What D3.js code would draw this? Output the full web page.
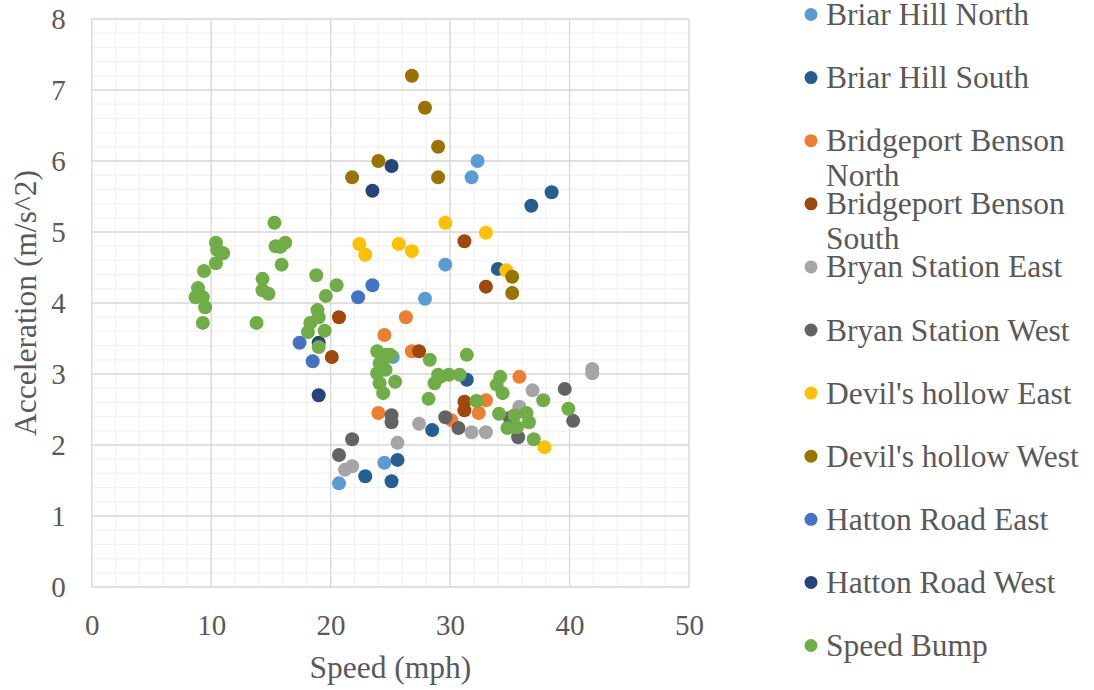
<!DOCTYPE html>
<html>
<head>
<meta charset="utf-8">
<script src="https://cdn.jsdelivr.net/npm/d3@7"></script>
<style>
  body { margin: 0; background: #fff; }
  svg { display: block; }
</style>
</head>
<body>
<svg width="1094" height="690"></svg>
<script>
const width = 1094, height = 690;
const FONT = "'Liberation Serif', 'Times New Roman', serif";
const svg = d3.select("svg").attr("font-family", FONT);

// Series names and colours (legend order)
const seriesNames = [
    "Briar Hill North", "Briar Hill South", "Bridgeport Benson North", "Bridgeport Benson South",
    "Bryan Station East", "Bryan Station West", "Devil's hollow East", "Devil's hollow West",
    "Hatton Road East", "Hatton Road West", "Speed Bump"
];
const seriesColors = ["#5B9BD5", "#255E91", "#ED7D31", "#9E480E", "#A5A5A5", "#636363",
    "#FFC000", "#997300", "#4472C4", "#264478", "#70AD47"];

// [speed, acceleration] per series
const briarHillNorth = [[32.3, 6.00], [31.8, 5.77], [29.6, 4.54], [27.9, 4.06], [20.7, 1.46], [24.5, 1.75], [25.2, 3.24]];
const briarHillSouth = [[38.5, 5.56], [36.8, 5.37], [34.0, 4.48], [22.9, 1.56], [25.1, 1.49], [25.6, 1.79], [28.5, 2.21], [31.4, 2.92]];
const bridgeportNorth = [[24.5, 3.55], [26.3, 3.80], [26.8, 3.32], [24.0, 2.45], [35.8, 2.96], [32.4, 2.45], [33.0, 2.63], [30.1, 2.35]];
const bridgeportSouth = [[31.2, 4.87], [33.0, 4.23], [20.7, 3.80], [20.1, 3.24], [27.4, 3.32], [31.2, 2.61], [31.2, 2.49]];
const bryanEast = [[41.9, 3.07], [41.9, 3.01], [36.9, 2.77], [35.8, 2.54], [31.8, 2.18], [33.0, 2.18], [27.4, 2.30], [25.6, 2.03], [21.8, 1.70], [21.2, 1.65]];
const bryanWest = [[39.6, 2.79], [40.3, 2.34], [35.7, 2.11], [35.0, 2.38], [30.7, 2.24], [29.6, 2.39], [25.1, 2.42], [25.1, 2.32], [21.8, 2.08], [20.7, 1.86]];
const devilsEast = [[22.4, 4.83], [22.9, 4.68], [25.7, 4.83], [26.8, 4.73], [29.6, 5.13], [33.0, 4.99], [34.7, 4.46], [37.9, 1.97]];
const devilsWest = [[26.8, 7.20], [27.9, 6.75], [29.0, 6.20], [29.0, 5.77], [24.0, 6.00], [21.8, 5.77], [35.2, 4.37], [35.2, 4.14]];
const hattonEast = [[23.5, 4.25], [22.3, 4.08], [17.4, 3.44], [18.5, 3.18]];
const hattonWest = [[25.1, 5.93], [23.5, 5.58], [19.0, 2.70], [19.0, 3.44]];
const speedBump = [
    [15.3, 5.13], [10.4, 4.85], [10.5, 4.75], [11.0, 4.70], [10.4, 4.56], [9.4, 4.45], [8.9, 4.21], [8.7, 4.08],
    [9.3, 4.08], [9.5, 3.94], [9.3, 3.72], [15.4, 4.80], [16.2, 4.85], [15.8, 4.79], [15.9, 4.54], [14.3, 4.34],
    [14.3, 4.18], [14.8, 4.13], [13.8, 3.72], [18.8, 4.39], [20.5, 4.25], [19.6, 4.10], [18.9, 3.90], [19.0, 3.80],
    [18.3, 3.72], [19.5, 3.61], [18.1, 3.59], [19.0, 3.38], [23.9, 3.32], [25.0, 3.27], [24.3, 3.15], [24.7, 3.27],
    [24.1, 3.15], [23.9, 3.01], [24.1, 2.87], [24.4, 2.73], [25.4, 2.89], [24.6, 3.06], [28.3, 3.20], [31.4, 3.27],
    [29.0, 2.99], [28.7, 2.87], [29.9, 2.99], [30.8, 2.99], [28.2, 2.65], [29.2, 2.96], [34.2, 2.96], [33.9, 2.85],
    [34.4, 2.73], [32.2, 2.62], [37.8, 2.63], [39.9, 2.51], [34.1, 2.44], [35.4, 2.42], [36.4, 2.45], [36.6, 2.32],
    [34.8, 2.24], [35.6, 2.25], [37.0, 2.08]
];
const seriesData = [briarHillNorth, briarHillSouth, bridgeportNorth, bridgeportSouth, bryanEast, bryanWest,
    devilsEast, devilsWest, hattonEast, hattonWest, speedBump];

const xTicks = [0, 10, 20, 30, 40, 50];
const yTicks = [0, 1, 2, 3, 4, 5, 6, 7, 8];

const plot = { left: 91.7, right: 689, top: 19, bottom: 587 };
const xScale = d3.scaleLinear().domain([0, 50]).range([plot.left, plot.right]);
const yScale = d3.scaleLinear().domain([0, 8]).range([plot.bottom, plot.top]);

// Gridlines: minor first, then major
function drawGrid() {
    const g = svg.append("g");
    g.selectAll(".xminor").data(d3.range(0, 50.01, 2)).enter().append("line")
        .attr("x1", d => xScale(d)).attr("x2", d => xScale(d))
        .attr("y1", plot.top).attr("y2", plot.bottom)
        .attr("stroke", "#F2F2F2").attr("stroke-width", 1.3);
    g.selectAll(".yminor").data(d3.range(0, 8.01, 0.2)).enter().append("line")
        .attr("y1", d => yScale(d)).attr("y2", d => yScale(d))
        .attr("x1", plot.left).attr("x2", plot.right)
        .attr("stroke", "#F2F2F2").attr("stroke-width", 1.3);
    g.selectAll(".xmajor").data(xTicks).enter().append("line")
        .attr("x1", d => xScale(d)).attr("x2", d => xScale(d))
        .attr("y1", plot.top).attr("y2", plot.bottom)
        .attr("stroke", "#D9D9D9").attr("stroke-width", 1.3);
    g.selectAll(".ymajor").data(yTicks).enter().append("line")
        .attr("y1", d => yScale(d)).attr("y2", d => yScale(d))
        .attr("x1", plot.left).attr("x2", plot.right)
        .attr("stroke", "#D9D9D9").attr("stroke-width", 1.3);
}

// Axes using d3 axis generators, then strip the lines
function drawAxes() {
    const xAxis = svg.append("g").attr("transform", `translate(0,${plot.bottom})`)
        .call(d3.axisBottom(xScale).tickValues(xTicks).tickSize(0).tickPadding(27));
    const yAxis = svg.append("g").attr("transform", `translate(${plot.left},0)`)
        .call(d3.axisLeft(yScale).tickValues(yTicks).tickSize(0).tickPadding(26));
    [xAxis, yAxis].forEach(a => {
        a.attr("font-family", FONT).attr("font-size", 29);
        a.select(".domain").remove();
        a.selectAll("text").attr("fill", "#595959");
    });

    svg.append("text").attr("x", (plot.left + plot.right) / 2).attr("y", 678)
        .attr("text-anchor", "middle").attr("fill", "#595959").attr("font-size", 31.5)
        .text("Speed (mph)");
    svg.append("text").attr("transform", `translate(36,${(plot.top + plot.bottom) / 2}) rotate(-90)`)
        .attr("text-anchor", "middle").attr("fill", "#595959").attr("font-size", 31.5)
        .text("Acceleration (m/s^2)");
}

function drawPoints() {
    seriesData.forEach((data, i) => {
        svg.append("g").selectAll("circle").data(data).enter().append("circle")
            .attr("cx", d => xScale(d[0]))
            .attr("cy", d => yScale(d[1]))
            .attr("r", 7)
            .attr("fill", seriesColors[i]);
    });
}

function drawLegend() {
    const maxWidth = 266;
    const legend = svg.selectAll(".legend").data(seriesNames).enter().append("g")
        .attr("class", "legend")
        .attr("transform", (d, i) => `translate(811,${14.5 + i * 63.1})`);
    legend.append("circle").attr("r", 6.5).attr("fill", (d, i) => seriesColors[i]);
    legend.each(function (name) {
        const text = d3.select(this).append("text").attr("x", 15).attr("y", 10.5)
            .attr("fill", "#595959").attr("font-family", FONT).attr("font-size", 31.5);
        const words = name.split(" ");
        let line = [], tspan = text.append("tspan").attr("x", 15);
        words.forEach(w => {
            line.push(w);
            tspan.text(line.join(" "));
            if (tspan.node().getComputedTextLength() > maxWidth && line.length > 1) {
                line.pop();
                tspan.text(line.join(" "));
                line = [w];
                tspan = text.append("tspan").attr("x", 15).attr("dy", 35).text(w);
            }
        });
    });
}

drawGrid();
drawPoints();
drawAxes();
drawLegend();
</script>
</body>
</html>
